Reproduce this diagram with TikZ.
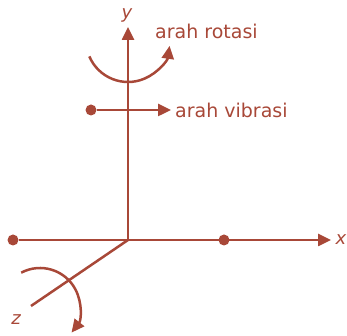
\documentclass[tikz,border=0pt]{standalone}
\usepackage{fontspec}
\setmainfont{DejaVu Sans}
\usepackage{tikz}
\usetikzlibrary{positioning,arrows.meta,calc}
\definecolor{rust}{RGB}{168,72,56}

\begin{document}
\begin{tikzpicture}[x=1pt, y=1pt,
        axis/.style={draw=rust, line width=2.5pt},
        arr/.style={axis, -{Triangle[length=13pt, width=12pt]}},
        pt/.style={circle, fill=rust, inner sep=0pt, minimum size=11pt},
        lbl/.style={text=rust, inner sep=0pt, font=\fontsize{19}{22}\selectfont},
        ax/.style={text=rust, inner sep=0pt, font=\fontsize{18}{21}\selectfont\itshape}
    ]
    \useasboundingbox (0,0) rectangle (347,336);
    \coordinate (o) at (128,96);
    \coordinate (ytip) at (128,309);
    \coordinate (xtip) at (331,96);
    \coordinate (zend) at (31,30);
    \node[pt] (xl) at (13,96) {};
    \node[pt] (xr) at (224,96) {};
    \node[pt] (v) at (91,226) {};
    \coordinate (vtip) at (171,226);
    \node[ax] (ylab) at (127,321) {y};
    \node[ax] (xlab) at (341,96) {x};
    \node[ax] (zlab) at (16,16) {z};
    \node[lbl, anchor=west] (rot) at (155,305) {arah rotasi};
    \node[lbl, anchor=west] (vib) at (175,226) {arah vibrasi};
    \draw[arr] (o) -- (ytip);
    \draw[arr] (xl) -- (xtip);
    \draw[axis] (o) -- (zend);
    \draw[arr] (v) -- (vtip);
    \draw[arr] ($(128,296)+(203:42)$) arc[start angle=203, end angle=352, radius=42];
    \draw[arr] ($(40,28)+(118:40)$) arc[start angle=118, end angle=-38, radius=40];
\end{tikzpicture}
\end{document}
